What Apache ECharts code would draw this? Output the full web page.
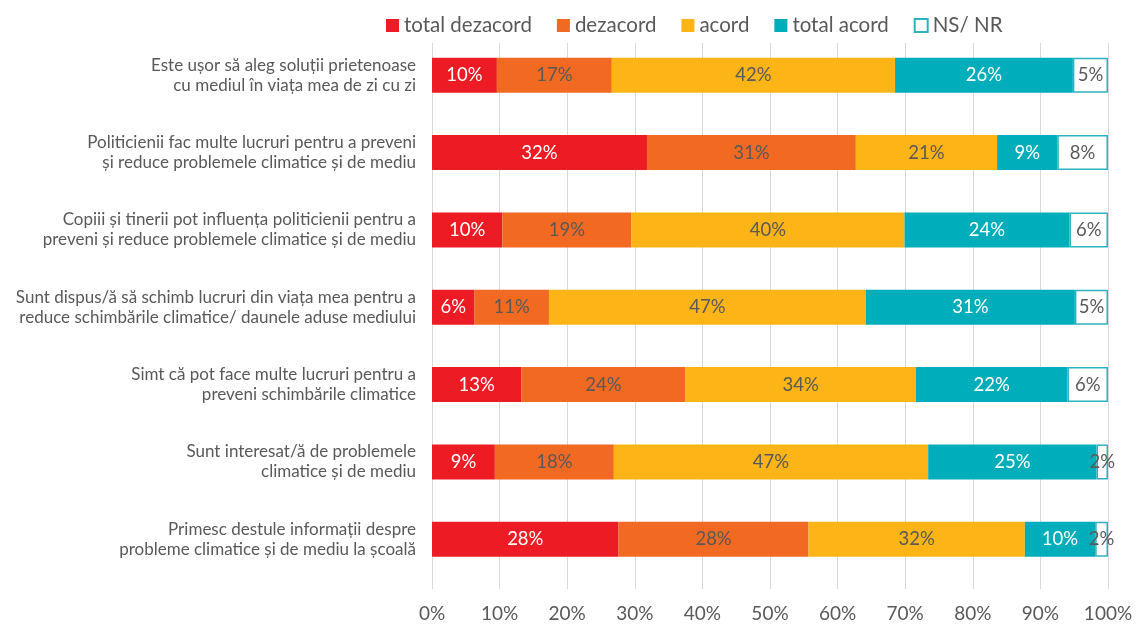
<!DOCTYPE html>
<html>
<head>
<meta charset="utf-8">
<script src="https://cdn.jsdelivr.net/npm/echarts@6/dist/echarts.min.js"></script>
<style>
html,body{margin:0;padding:0;background:#fff;}
#chart{width:1145px;height:626px;}
</style>
</head>
<body>
<div id="chart"></div>
<script>
const categories = [
  "Este ușor să aleg soluții prietenoase\ncu mediul în viața mea de zi cu zi",
  "Politicienii fac multe lucruri pentru a preveni\nși reduce problemele climatice și de mediu",
  "Copiii și tinerii pot influența politicienii pentru a\npreveni și reduce problemele climatice și de mediu",
  "Sunt dispus/ă să schimb lucruri din viața mea pentru a\nreduce schimbările climatice/ daunele aduse mediului",
  "Simt că pot face multe lucruri pentru a\npreveni schimbările climatice",
  "Sunt interesat/ă de problemele\nclimatice și de mediu",
  "Primesc destule informații despre\nprobleme climatice și de mediu la școală"
];
const seriesNames = ["total dezacord", "dezacord", "acord", "total acord", "NS/ NR"];
const totalDezacord = [9.6, 31.8, 10.4, 6.3, 13.2, 9.3, 27.6];
const dezacord      = [17.0, 30.9, 19.1, 11.0, 24.3, 17.6, 28.1];
const acord         = [41.9, 20.9, 40.4, 46.9, 34.1, 46.5, 32.0];
const totalAcord    = [26.3, 8.9, 24.4, 30.9, 22.4, 24.9, 10.4];
const nsNr          = [5.2, 7.5, 5.7, 4.9, 6.0, 1.7, 1.9];
const xTicks = [0, 10, 20, 30, 40, 50, 60, 70, 80, 90, 100];

const FONT = "Lato, 'Open Sans', sans-serif";
const GRAY = "#595959";
const values = [totalDezacord, dezacord, acord, totalAcord, nsNr];
const fills = ["#ED1C24", "#F26A22", "#FDB417", "#00ADBB", "#FFFFFF"];
const labelColors = ["#FFFFFF", GRAY, GRAY, "#FFFFFF", GRAY];

const chart = echarts.init(document.getElementById('chart'), null, {renderer: 'canvas'});
const series = values.map((arr, i) => ({
  name: seriesNames[i],
  type: 'bar',
  stack: 'total',
  xAxisIndex: 1,
  yAxisIndex: 1,
  barWidth: 35,
  data: arr,
  itemStyle: i === 4
    ? {color: '#FFFFFF', borderColor: '#2BB3C0', borderWidth: 1.5}
    : {color: fills[i]},
  label: {
    show: true,
    position: 'inside',
    color: labelColors[i],
    fontFamily: FONT,
    fontSize: 18.5,
    formatter: p => Math.round(p.value) + '%'
  },
  emphasis: {disabled: true},
  animation: false
}));

chart.setOption({
  animation: false,
  legend: {
    data: seriesNames,
    left: 381,
    top: 10,
    itemWidth: 13,
    itemHeight: 13,
    itemGap: 25,
    textStyle: {color: GRAY, fontFamily: FONT, fontSize: 20.5},
    icon: 'rect'
  },
  grid: [
    {left: 432, right: 37, top: 43, bottom: 37},
    {left: 432, right: 37, top: 36.5, height: 541.5}
  ],
  xAxis: [
    {
      gridIndex: 0, type: 'value', min: 0, max: 100, interval: 10,
      axisLine: {show: false}, axisTick: {show: false},
      splitLine: {show: true, lineStyle: {color: '#D9D9D9', width: 1}},
      axisLabel: {
        color: GRAY, fontFamily: FONT, fontSize: 19, margin: 15,
        formatter: v => xTicks.includes(v) ? v + '%' : ''
      }
    },
    {
      gridIndex: 1, type: 'value', min: 0, max: 100, interval: 10,
      show: false
    }
  ],
  yAxis: [
    {gridIndex: 0, type: 'category', data: categories, show: false, inverse: true},
    {
      gridIndex: 1, type: 'category', data: categories, inverse: true,
      axisLine: {show: false}, axisTick: {show: false},
      axisLabel: {
        color: GRAY, fontFamily: FONT, fontSize: 17, lineHeight: 20,
        margin: 16, align: 'right'
      }
    }
  ],
  series: series
});
</script>
</body>
</html>
